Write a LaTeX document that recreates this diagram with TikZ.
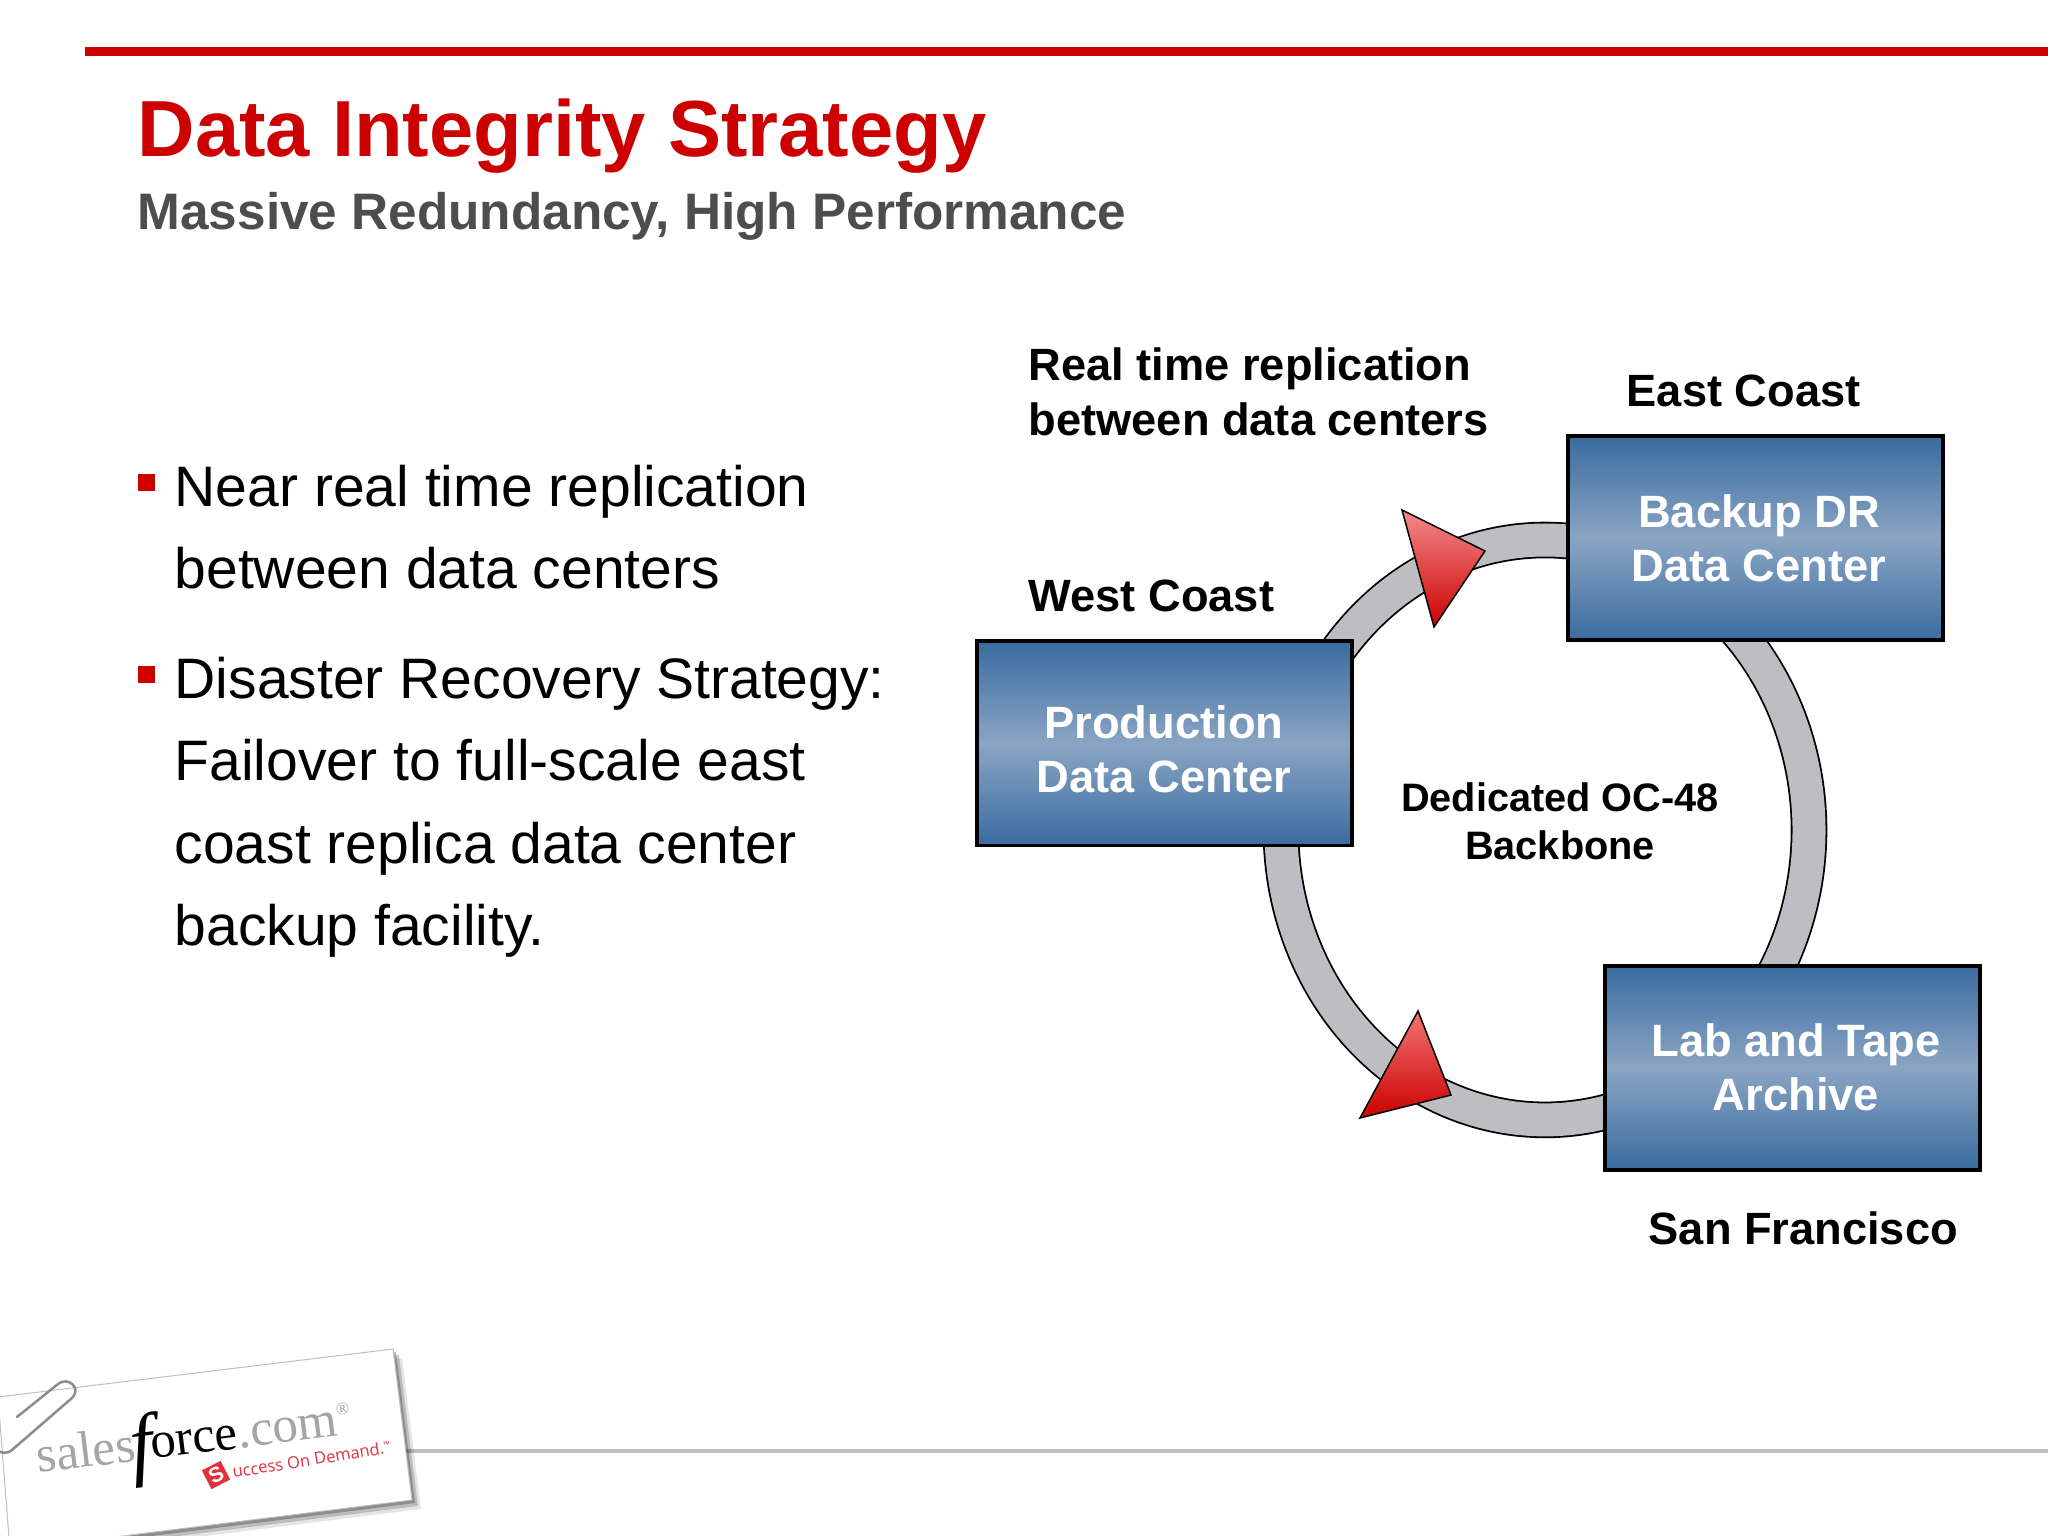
\documentclass[tikz,border=0pt]{standalone}
\usepackage{fontspec}
\usepackage{xcolor}
\setmainfont{Liberation Sans}
\newfontfamily\logoserif{Liberation Serif}
\newfontfamily\logosans{Open Sans}
\usetikzlibrary{backgrounds}
\definecolor{sfRed}{RGB}{204, 0, 0}
\definecolor{sfGray}{RGB}{77, 77, 79}
\definecolor{ringGray}{RGB}{190, 190, 194}
\definecolor{siteDark}{RGB}{58, 107, 160}
\definecolor{siteLight}{RGB}{138, 165, 196}
\definecolor{logoGray}{RGB}{165, 165, 165}
\definecolor{logoRed}{RGB}{222, 50, 60}

\begin{document}
\begin{tikzpicture}
    % Styles
    \tikzstyle{site} = [rectangle, minimum width=3.75cm, minimum height=2.04cm, draw=black, line width=0.04cm, top color=siteDark, bottom color=siteDark, middle color=siteLight, text=white, align=center, font=\fontsize{12.9}{15.3}\selectfont\bfseries]
    \tikzstyle{caption} = [anchor=west, inner sep=0pt, align=left, font=\fontsize{12.87}{15.6}\selectfont\bfseries]
    \tikzstyle{bodytext} = [anchor=north west, inner sep=0pt, align=left, font=\fontsize{16.23}{23.4}\selectfont]
    \tikzstyle{bullet} = [rectangle, fill=sfRed, minimum size=0.17cm, inner sep=0pt]
    \tikzstyle{backbone} = [line width=0.018cm, draw=black, double=ringGray, double distance=0.33cm, line join=round]
    \tikzstyle{redtip} = [draw=black, line width=0.015cm, line join=miter]

    \useasboundingbox (0, 0) rectangle (20.48, -15.36);

    % Header
    \fill[sfRed] (0.85, -0.47) rectangle (20.48, -0.56);
    \node[anchor=base west, inner sep=0pt, text=sfRed, font=\fontsize{22.64}{26}\selectfont\bfseries] (title) at (1.37, -1.57) {Data Integrity Strategy};
    \node[anchor=base west, inner sep=0pt, text=sfGray, font=\fontsize{14.6}{17}\selectfont\bfseries] (subtitle) at (1.37, -2.30) {Massive Redundancy, High Performance};

    % Bullets
    \node[bullet] (dotone) at (1.465, -4.83) {};
    \node[bullet] (dottwo) at (1.465, -6.75) {};
    \node[bodytext] (bodyone) at (1.74, -4.645) {Near real time replication\\between data centers};
    \node[bodytext] (bodytwo) at (1.74, -6.565) {Disaster Recovery Strategy:\\Failover to full-scale east\\coast replica data center\\backup facility.};

    % Sites
    \node[site] (production) at (11.64, -7.435) {\rule{0pt}{0.45cm}Production\\Data Center};
    \node[site] (backup) at (17.55, -5.385) {\hspace*{0.08cm}Backup DR\\\hspace*{0.08cm}Data Center};
    \node[site] (lab) at (17.92, -10.675) {\hspace*{0.08cm}Lab and Tape\\\hspace*{0.08cm}Archive};

    % Labels
    \node[caption] (replication) at (10.28, -3.92) {Real time replication\\between data centers};
    \node[caption] (east) at (16.26, -3.91) {East Coast};
    \node[caption] (west) at (10.28, -5.96) {West Coast};
    \node[caption] (sanfrancisco) at (16.48, -12.28) {San Francisco};
    \node[align=center, inner sep=0pt, font=\fontsize{11.3}{13.7}\selectfont\bfseries] (oc) at (15.60, -8.21) {Dedicated OC-48\\Backbone};

    % Ring
    \coordinate (ringwest) at (12.81, -8.30);
    \coordinate (ringnortheast) at (17.317, -6.25);
    \coordinate (ringsouth) at (16.133, -11.10);
    \begin{pgfonlayer}{background}
        \draw[backbone] (production.center) -- (ringwest) arc[start angle=180, end angle=80, x radius=2.64, y radius=2.90] -- (backup.center);
        \draw[backbone] (backup.center) -- (ringnortheast) arc[start angle=45, end angle=-60, x radius=2.64, y radius=2.90] -- (lab.center);
        \draw[backbone] (lab.center) -- (ringsouth) arc[start angle=-75, end angle=-180, x radius=2.64, y radius=2.90] -- (production.center);
    \end{pgfonlayer}

    % Arrowheads
    \draw[redtip, top color=red!45!white!90!gray, bottom color=sfRed] (14.02, -5.10) -- (14.85, -5.51) -- (14.34, -6.27) -- cycle;
    \draw[redtip, top color=red!55!white!90!gray, bottom color=sfRed] (14.18, -10.11) -- (14.51, -10.95) -- (13.60, -11.18) -- cycle;

    % Footer
    \fill[black!25] (4.00, -14.485) rectangle (20.48, -14.525);
    \foreach \d/\o in {0.09/0.10, 0.06/0.18, 0.03/0.25}
        \fill[black, opacity=\o] (0, -13.97) ++(\d, -\d) -- (3.93+\d, -13.49-\d) -- (4.12+\d, -15.00-\d) -- (1.33+\d, -15.35-\d) -- (0.10+\d, -15.40-\d) -- cycle;
    \filldraw[fill=white, draw=black!25, line width=0.01cm] (-0.02, -13.97) -- (3.93, -13.49) -- (4.12, -15.00) -- (0.10, -15.50) -- cycle;
    \draw[black!45, line width=0.025cm, line cap=round] (0.17, -14.17) -- (0.58, -13.84) .. controls (0.68, -13.76) and (0.82, -13.88) .. (0.72, -13.98) -- (0.12, -14.50) .. controls (0.06, -14.55) and (0, -14.52) .. (-0.05, -14.50);
    \node[anchor=base west, inner sep=0pt, rotate=7, font=\fontsize{14.5}{17}\logoserif\selectfont] (logo) at (0.38, -14.73) {\textcolor{logoGray}{sales}\hspace{-0.05cm}\raisebox{-0.1cm}{\fontsize{23}{23}\selectfont\itshape f}\hspace{-0.02cm}orce\textcolor{logoGray}{.com\raisebox{0.9ex}{\fontsize{5}{5}\selectfont ®}}};
    \node[anchor=base west, inner sep=0pt, rotate=9, text=logoRed, font=\fontsize{4.7}{6}\logosans\selectfont] (demand) at (2.33, -14.78) {uccess On Demand.\raisebox{0.6ex}{\fontsize{2.5}{3}\selectfont ™}};
    \node[fill=logoRed, text=white, rotate=27, minimum size=0.21cm, inner sep=0pt, font=\fontsize{6}{6}\selectfont\bfseries] (logos) at (2.16, -14.75) {S};
\end{tikzpicture}
\end{document}
